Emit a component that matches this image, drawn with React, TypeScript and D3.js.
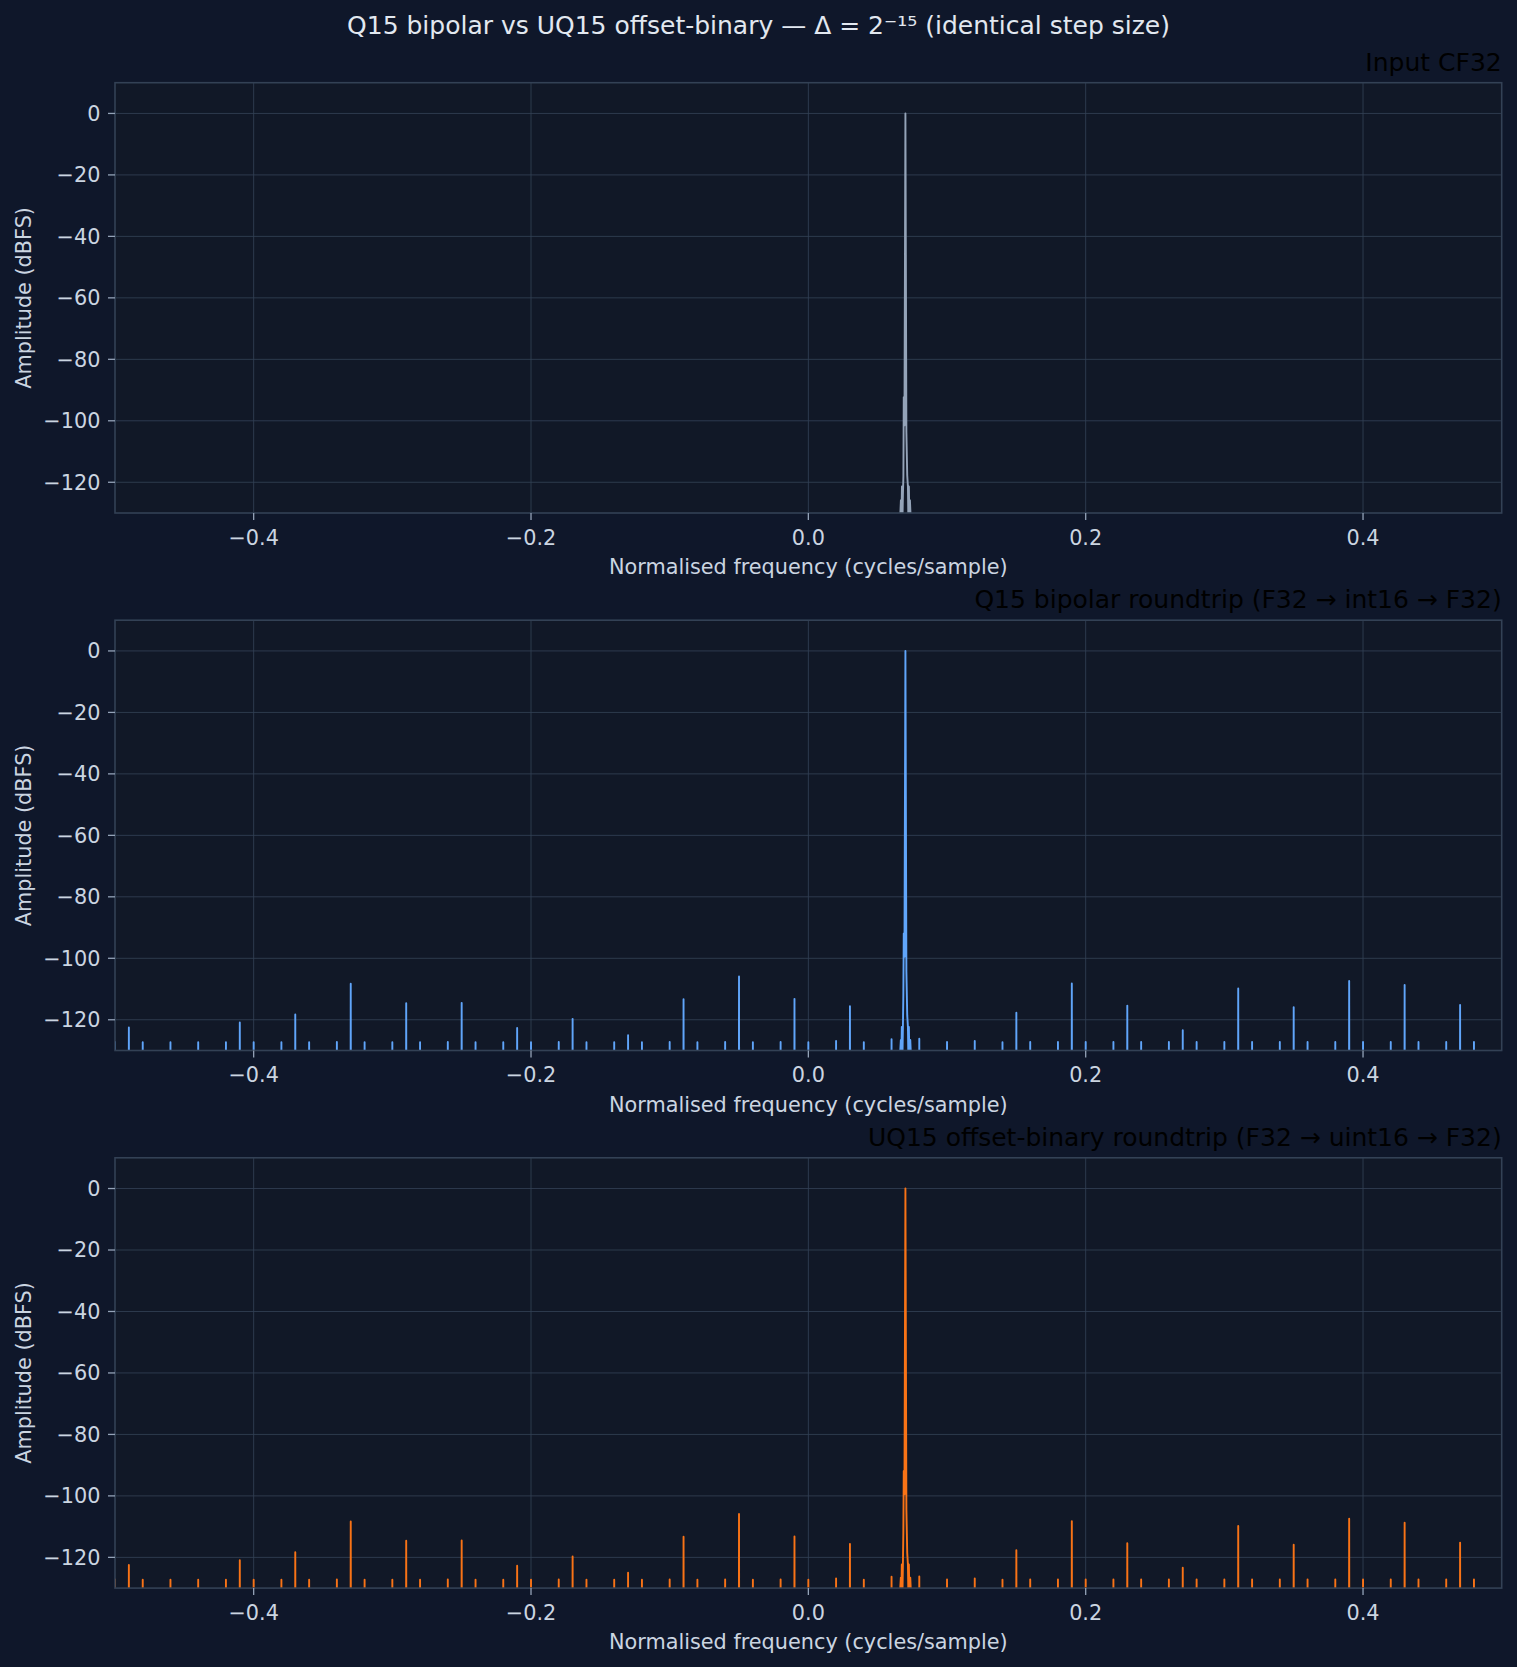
import React from "react";
import * as d3 from "d3";

// ---------- data ----------
const suptitle = "Q15 bipolar vs UQ15 offset-binary — Δ = 2⁻¹⁵ (identical step size)";
const panelTitles = [
  "Input CF32",
  "Q15 bipolar roundtrip (F32 → int16 → F32)",
  "UQ15 offset-binary roundtrip (F32 → uint16 → F32)",
];
const panelColors = ["#94a3b8", "#60a5fa", "#f97316"];
const xTicks = [-0.4, -0.2, 0.0, 0.2, 0.4];
const xTickLabels = ["−0.4", "−0.2", "0.0", "0.2", "0.4"];
const yTicks = [0, -20, -40, -60, -80, -100, -120];
const yTickLabels = ["0", "−20", "−40", "−60", "−80", "−100", "−120"];

const toneFreq = 0.07;
const toneDb = 0;

// harmonic / alias spurs (tone + k·0.04) in the quantised spectra
const tallSpurFreq = [
  -0.49, -0.41, -0.37, -0.33, -0.29, -0.25, -0.21, -0.17, -0.13, -0.09, -0.05, -0.01, 0.03,
  0.15, 0.19, 0.23, 0.27, 0.31, 0.35, 0.39, 0.43, 0.47,
];
const tallSpurDb = [
  -122.5, -120.9, -118.3, -108.3, -114.6, -114.5, -122.7, -119.7, -125.0, -113.3, -105.9, -113.2, -115.6,
  -117.7, -108.2, -115.4, -123.4, -109.8, -115.9, -107.4, -108.7, -115.2,
];
// low-level spurs on the even hundredths
const smallSpurFreq = [
  -0.5, -0.48, -0.46, -0.44, -0.42, -0.4, -0.38, -0.36, -0.34, -0.32, -0.3, -0.28, -0.26, -0.24, -0.22,
  -0.2, -0.18, -0.16, -0.14, -0.12, -0.1, -0.08, -0.06, -0.04, -0.02, 0.0, 0.02, 0.04, 0.06, 0.08, 0.1,
  0.12, 0.14, 0.16, 0.18, 0.2, 0.22, 0.24, 0.26, 0.28, 0.3, 0.32, 0.34, 0.36, 0.38, 0.4, 0.42, 0.44,
  0.46, 0.48,
];
const smallSpurDb = [
  -127.2, -127.3, -127.3, -127.3, -127.3, -127.3, -127.3, -127.3, -127.2, -127.3, -127.3, -127.3, -127.2,
  -127.3, -127.3, -127.3, -127.2, -127.3, -127.3, -127.3, -127.2, -127.3, -127.2, -127.3, -127.2, -127.3,
  -126.9, -127.3, -126.3, -126.2, -127.2, -126.9, -127.3, -127.2, -127.2, -127.2, -127.2, -127.2, -127.2,
  -127.2, -127.2, -127.2, -127.2, -127.2, -127.2, -127.2, -127.2, -127.2, -127.2, -127.2,
];

// leakage skirt around the tone (offset from tone frequency, dB)
const inputSkirtOffset = [
  -0.004, -0.00325, -0.0029, -0.0025, -0.0022, -0.0018, -0.00145, -0.0012, -0.0007, 0.0007, 0.0013,
  0.0018, 0.0022, 0.0025, 0.0029, 0.00325, 0.004,
];
const inputSkirtDb = [
  -134, -125.8, -134, -121.4, -134, -124, -118, -92.3, -101.5, -103.7, -117.7, -121.4, -134, -121.4,
  -134, -125.8, -134,
];
const quantSkirtOffset = [
  -0.0042, -0.0033, -0.003, -0.0026, -0.0022, -0.0018, -0.0015, -0.0012, -0.0007, 0.0007, 0.0013,
  0.0018, 0.0022, 0.0025, 0.0029, 0.0035, 0.0042,
];
const quantSkirtDb = [
  -134, -126.6, -134, -122.3, -134, -122.3, -112, -91.9, -99.5, -104.4, -118.5, -122.3, -134, -122.3,
  -134, -126.6, -134,
];

// ---------- layout ----------
const W = 1517;
const H = 1667;
const left = 115;
const right = 1501.7;
const panelTops = [82.7, 620.2, 1157.8];
const panelH = 430.3;
const FLOOR = -145;
const SPIKE_HALF = 0.0001;
const FONT = "'DejaVu Sans', sans-serif";

type Pt = [number, number];

function spike(f: number, db: number): Pt[] {
  return [
    [f - SPIKE_HALF, FLOOR],
    [f, db],
    [f + SPIKE_HALF, FLOOR],
  ];
}

function toneWithSkirt(offsets: number[], dbs: number[]): Pt[] {
  const pts: Pt[] = offsets.map((o, i) => [toneFreq + o, dbs[i]] as Pt);
  pts.push([toneFreq, toneDb]);
  return pts;
}

function inputSeries(): Pt[] {
  const pts: Pt[] = [[-0.5, FLOOR], ...toneWithSkirt(inputSkirtOffset, inputSkirtDb), [0.5, FLOOR]];
  return pts.sort((a, b) => a[0] - b[0]);
}

function quantSeries(): Pt[] {
  let pts: Pt[] = [[-0.5005, FLOOR], [0.5, FLOOR]];
  tallSpurFreq.forEach((f, i) => (pts = pts.concat(spike(f, tallSpurDb[i]))));
  smallSpurFreq.forEach((f, i) => (pts = pts.concat(spike(f, smallSpurDb[i]))));
  pts = pts.concat(toneWithSkirt(quantSkirtOffset, quantSkirtDb));
  return pts.sort((a, b) => a[0] - b[0]);
}

function Panel({ idx }: { idx: number }) {
  const top = panelTops[idx];
  const bottom = top + panelH;
  const x = d3.scaleLinear().domain([-0.5, 0.5]).range([left, right]);
  const y = d3.scaleLinear().domain([-130, 10]).range([bottom, top]);
  const data = idx === 0 ? inputSeries() : quantSeries();
  const line = d3
    .line<Pt>()
    .x((d) => x(d[0]))
    .y((d) => y(d[1]));
  const clipId = `clip${idx}`;
  const cx = (left + right) / 2;
  return (
    <g>
      <defs>
        <clipPath id={clipId}>
          <rect x={left} y={top} width={right - left} height={panelH} />
        </clipPath>
      </defs>
      <rect x={left} y={top} width={right - left} height={panelH} fill="#111827" />
      {xTicks.map((t) => (
        <line key={"gx" + t} x1={x(t)} x2={x(t)} y1={top} y2={bottom} stroke="#334155" strokeWidth={1} opacity={0.85} />
      ))}
      {yTicks.map((t) => (
        <line key={"gy" + t} x1={left} x2={right} y1={y(t)} y2={y(t)} stroke="#334155" strokeWidth={1} opacity={0.85} />
      ))}
      <path
        d={line(data) || ""}
        fill="none"
        stroke={panelColors[idx]}
        strokeWidth={1.9}
        strokeLinejoin="round"
        clipPath={`url(#${clipId})`}
      />
      <rect x={left} y={top} width={right - left} height={panelH} fill="none" stroke="#334155" strokeWidth={1.6} />
      {xTicks.map((t, i) => (
        <g key={"tx" + t}>
          <line x1={x(t)} x2={x(t)} y1={bottom} y2={bottom + 7} stroke="#94a3b8" strokeWidth={1.3} />
          <text x={x(t)} y={bottom + 31.5} textAnchor="middle" fontSize={20.8} fill="#cbd5e1" fontFamily={FONT}>
            {xTickLabels[i]}
          </text>
        </g>
      ))}
      {yTicks.map((t, i) => (
        <g key={"ty" + t}>
          <line x1={left - 7} x2={left} y1={y(t)} y2={y(t)} stroke="#94a3b8" strokeWidth={1.3} />
          <text
            x={left - 14.6}
            y={y(t)}
            dy="0.36em"
            textAnchor="end"
            fontSize={20.8}
            fill="#cbd5e1"
            fontFamily={FONT}
          >
            {yTickLabels[i]}
          </text>
        </g>
      ))}
      <text x={cx} y={bottom + 61} textAnchor="middle" fontSize={20.8} fill="#cbd5e1" fontFamily={FONT}>
        Normalised frequency (cycles/sample)
      </text>
      <text
        transform={`translate(30.5, ${(top + bottom) / 2}) rotate(-90)`}
        textAnchor="middle"
        fontSize={20.8}
        fill="#cbd5e1"
        fontFamily={FONT}
      >
        Amplitude (dBFS)
      </text>
      <text x={right} y={top - 12} textAnchor="end" fontSize={25} fill="#000000" fontFamily={FONT}>
        {panelTitles[idx]}
      </text>
    </g>
  );
}

export default function App() {
  return (
    <svg
      width={W}
      height={H}
      viewBox={`0 0 ${W} ${H}`}
      style={{ position: "absolute", left: 0, top: 0, display: "block" }}
    >
      <rect x={0} y={0} width={W} height={H} fill="#0f172a" />
      <text x={W / 2} y={34} textAnchor="middle" fontSize={25} fill="#e2e8f0" fontFamily={FONT}>
        {suptitle}
      </text>
      {[0, 1, 2].map((i) => (
        <Panel key={i} idx={i} />
      ))}
    </svg>
  );
}
